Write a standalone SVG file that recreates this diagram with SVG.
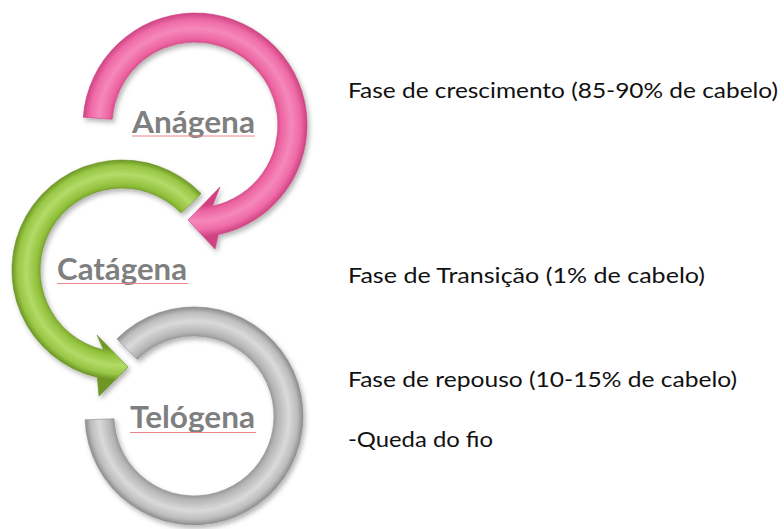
<svg xmlns="http://www.w3.org/2000/svg" width="784" height="529" viewBox="0 0 784 529">
<style>
.lbl{font-family:Lato,"Open Sans","Liberation Sans",sans-serif;font-weight:bold;font-size:30px;fill:#7f7f7f}
.txt{font-family:Lato,"Open Sans","Liberation Sans",sans-serif;font-size:21px;fill:#111}
.sq{stroke:#e8868a;stroke-width:1}
</style>
<defs>
<filter id="sh" x="-20%" y="-20%" width="140%" height="140%">
<feDropShadow dx="2" dy="3" stdDeviation="2.5" flood-color="#000" flood-opacity="0.3"/>
</filter>
<radialGradient id="gPink" gradientUnits="userSpaceOnUse" cx="195" cy="125" r="112">
<stop offset="0.72" stop-color="#d2417f"/>
<stop offset="0.77" stop-color="#ec64a1"/>
<stop offset="0.86" stop-color="#f588bb"/>
<stop offset="0.94" stop-color="#ef6ba7"/>
<stop offset="1" stop-color="#cf4382"/>
</radialGradient>
<radialGradient id="gGreen" gradientUnits="userSpaceOnUse" cx="122" cy="270" r="110">
<stop offset="0.72" stop-color="#6f9a24"/>
<stop offset="0.78" stop-color="#93c23e"/>
<stop offset="0.87" stop-color="#b3db68"/>
<stop offset="0.95" stop-color="#97c644"/>
<stop offset="1" stop-color="#6d9625"/>
</radialGradient>
<radialGradient id="gGray" gradientUnits="userSpaceOnUse" cx="194" cy="416" r="109">
<stop offset="0.71" stop-color="#8a8a8a"/>
<stop offset="0.77" stop-color="#b5b5b5"/>
<stop offset="0.87" stop-color="#dadada"/>
<stop offset="0.95" stop-color="#bcbcbc"/>
<stop offset="1" stop-color="#8c8c8c"/>
</radialGradient>
</defs>
<rect width="784" height="529" fill="#fff"/>
<g id="connectors">
<g id="telogena-ring">
<path d="M116.9,338.9 A109,109 0 1 1 85.1,419.8 L114.05,418.8 A80,80 0 1 0 137.4,359.4 Z" fill="url(#gGray)" stroke="#8f8f8f" stroke-width="0.6" filter="url(#sh)"/>
</g>
<g id="catagena-arrow">
<path d="M201.1,193.6 A110,110 0 1 0 97.3,377.2 L99,396 L128,367 L97,335 L103.6,349.9 A82,82 0 1 1 181,213 Z" fill="url(#gGreen)" stroke="#6a9225" stroke-width="0.6" filter="url(#sh)"/>
</g>
<g id="anagena-arrow">
<path d="M83.3,117.2 A112,112 0 1 1 218.3,234.6 L215,249 L188,220 L220,187 L212.3,206.2 A83,83 0 1 0 112.2,119.2 Z" fill="url(#gPink)" stroke="#c94080" stroke-width="0.6" filter="url(#sh)"/>
</g>
</g>
<g id="node-anagena">
<text class="lbl" x="132" y="133" textLength="123" lengthAdjust="spacingAndGlyphs">Anágena</text>
<line class="sq" x1="132" y1="136" x2="255" y2="136"/>
</g>
<g id="node-catagena">
<text class="lbl" x="57" y="280" textLength="130" lengthAdjust="spacingAndGlyphs">Catágena</text>
<line class="sq" x1="57" y1="283.5" x2="188" y2="283.5"/>
</g>
<g id="node-telogena">
<text class="lbl" x="130" y="428" textLength="125" lengthAdjust="spacingAndGlyphs">Telógena</text>
<line class="sq" x1="130" y1="432.5" x2="256" y2="432.5"/>
</g>
<g id="desc">
<text class="txt" x="348" y="98" textLength="430" lengthAdjust="spacingAndGlyphs">Fase de crescimento (85-90% de cabelo)</text>
<text class="txt" x="348" y="283" textLength="357" lengthAdjust="spacingAndGlyphs">Fase de Transição (1% de cabelo)</text>
<text class="txt" x="348" y="387" textLength="389" lengthAdjust="spacingAndGlyphs">Fase de repouso (10-15% de cabelo)</text>
<text class="txt" x="348" y="447" textLength="145" lengthAdjust="spacingAndGlyphs">-Queda do fio</text>
</g>
</svg>
